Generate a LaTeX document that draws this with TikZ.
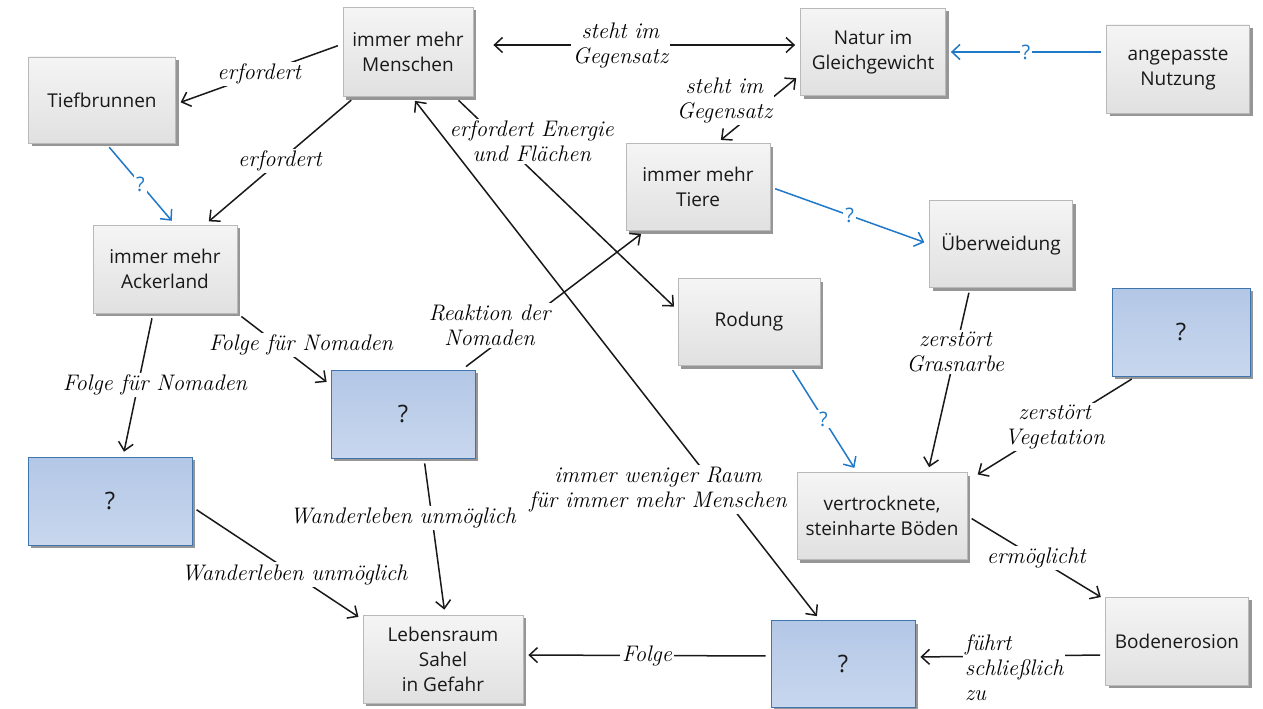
\documentclass[tikz,border=0pt]{standalone}
\usepackage{fontspec}
\newfontfamily\boxfont{Open Sans}
\usetikzlibrary{arrows.meta,shadows}
\definecolor{qfillA}{HTML}{B3C7E6}
\definecolor{qfillB}{HTML}{C8D7EE}
\definecolor{qdraw}{HTML}{3F74AD}
\definecolor{bluec}{HTML}{1F78C8}
\tikzset{
  >={Straight Barb[length=8pt,width=15pt]},
  box/.style={draw=gray!55, line width=0.8pt, top color=gray!8, bottom color=gray!24,
    drop shadow={shadow xshift=3pt, shadow yshift=-3pt, fill=black!55, opacity=0.75},
    align=center, inner sep=2pt, font=\boxfont\fontsize{19}{25}\selectfont, text=black!90},
  qbox/.style={box, draw=qdraw, top color=qfillA, bottom color=qfillB, font=\boxfont\fontsize{24}{25}\selectfont},
  conn/.style={line width=1.5pt, draw=black!90, shorten >=5pt, shorten <=5pt},
  bconn/.style={conn, draw=bluec},
  lbl/.style={font=\itshape\fontsize{22.5}{25}\selectfont, fill=white, inner sep=2pt, align=center, text=black},
  blbl/.style={lbl, text=bluec, font=\boxfont\fontsize{20}{22}\selectfont}
}
\begin{document}
\begin{tikzpicture}[x=1pt,y=-1pt]
\useasboundingbox (0,0) rectangle (1263,709);
% nodes
\node[box, minimum width=130pt, minimum height=89pt] (men) at (408,52) {immer mehr\\Menschen};
\node[box, minimum width=145pt, minimum height=87pt] (nat) at (873,52) {Natur im\\Gleichgewicht};
\node[box, minimum width=143pt, minimum height=88pt] (ang) at (1178,69) {angepasste\\Nutzung};
\node[box, minimum width=147pt, minimum height=86pt] (tief) at (102,100) {Tiefbrunnen};
\node[box, minimum width=144pt, minimum height=87pt] (tie) at (698,187) {immer mehr\\Tiere};
\node[box, minimum width=143pt, minimum height=87pt] (ueb) at (1001,244) {Überweidung};
\node[box, minimum width=144pt, minimum height=88pt] (ack) at (165,269) {immer mehr\\Ackerland};
\node[box, minimum width=142pt, minimum height=87pt] (rod) at (749,322) {Rodung};
\node[qbox, minimum width=138pt, minimum height=88pt] (qa) at (1181,332) {?};
\node[qbox, minimum width=144pt, minimum height=88pt] (qb) at (403,414) {?};
\node[qbox, minimum width=164pt, minimum height=88pt] (qc) at (110,501) {?};
\node[box, minimum width=170pt, minimum height=87pt] (boe) at (882,516) {vertrocknete,\\steinharte Böden};
\node[box, minimum width=143pt, minimum height=88pt] (ero) at (1177,641) {Bodenerosion};
\node[qbox, minimum width=144pt, minimum height=87pt] (qd) at (843,664) {?};
\node[box, minimum width=160pt, minimum height=88pt] (leb) at (443,659) {Lebensraum\\Sahel\\in Gefahr};
% connectors
\draw[conn,->] ([yshift=8pt]men.west) -- node[lbl]{erfordert} ([yshift=-4pt]tief.east);
\draw[conn,->] ([xshift=-53pt]men.south) -- node[lbl]{erfordert} ([xshift=40pt]ack.north);
\draw[conn,<->, shorten <=20pt] ([yshift=7pt]men.east) -- node[lbl, pos=0.45]{steht im\\Gegensatz} ([yshift=7pt]nat.west);
\draw[conn,<->] ([xshift=19pt]tie.north) -- node[lbl, pos=0.45, xshift=-30pt, yshift=12pt]{steht im\\Gegensatz} ([yshift=-23pt]nat.west);
\draw[bconn,->] ([yshift=17pt]ang.west) -- node[blbl]{?} (nat.east);
\draw[bconn,->] ([xshift=4pt]tief.south) -- node[blbl]{?} ([xshift=10pt]ack.north);
\draw[conn,->] ([xshift=47pt]men.south) -- node[lbl, pos=0.21, xshift=30pt]{erfordert Energie\\und Flächen} ([yshift=12pt]rod.west);
\draw[bconn,->] (tie.east) -- node[blbl]{?} (ueb.west);
\draw[conn,->] ([xshift=-31pt]ueb.south) -- node[lbl, pos=0.35]{zerstört\\Grasnarbe} ([xshift=46pt]boe.north);
\draw[bconn,->] ([xshift=41pt]rod.south) -- node[blbl]{?} ([xshift=-25pt]boe.north);
\draw[conn,->] ([xshift=-45pt]qa.south) -- node[lbl]{zerstört\\Vegetation} ([xshift=6pt,yshift=-5pt]boe.north east);
\draw[conn,->] (ack.south east) -- node[lbl, xshift=17pt, yshift=4pt]{Folge für Nomaden} ([yshift=29pt]qb.west);
\draw[conn,->] ([xshift=-12pt]ack.south) -- node[lbl, xshift=17pt]{Folge für Nomaden} ([xshift=13pt]qc.north);
\draw[conn,->] ([xshift=59pt]qb.north) -- node[lbl, pos=0.32, xshift=-31pt]{Reaktion der\\Nomaden} ([xshift=-53pt]tie.south);
\draw[conn,->] ([yshift=-6pt]qc.east) -- node[lbl, pos=0.6]{Wanderleben unmöglich} ([yshift=-5pt]leb.north west);
\draw[conn,->] ([xshift=21pt]qb.south) -- node[lbl, pos=0.38, xshift=-29pt]{Wanderleben unmöglich} ([xshift=2pt]leb.north);
\draw[conn,->] (boe.east) -- node[lbl]{ermöglicht} ([yshift=-3pt]ero.north west);
\draw[conn,->] ([yshift=-14pt]ero.west) -- node[lbl, yshift=-12pt, xshift=4pt, align=left]{führt\\schließlich\\zu} ([yshift=7pt]qd.east);
\draw[conn,->] ([yshift=8pt]qd.west) -- node[lbl]{Folge} ([yshift=4pt]leb.east);
\draw[conn,<->] ([xshift=4pt]men.south) -- node[lbl, pos=0.75, xshift=-60pt]{immer weniger Raum\\für immer mehr Menschen} ([xshift=-23pt]qd.north);
\end{tikzpicture}
\end{document}
